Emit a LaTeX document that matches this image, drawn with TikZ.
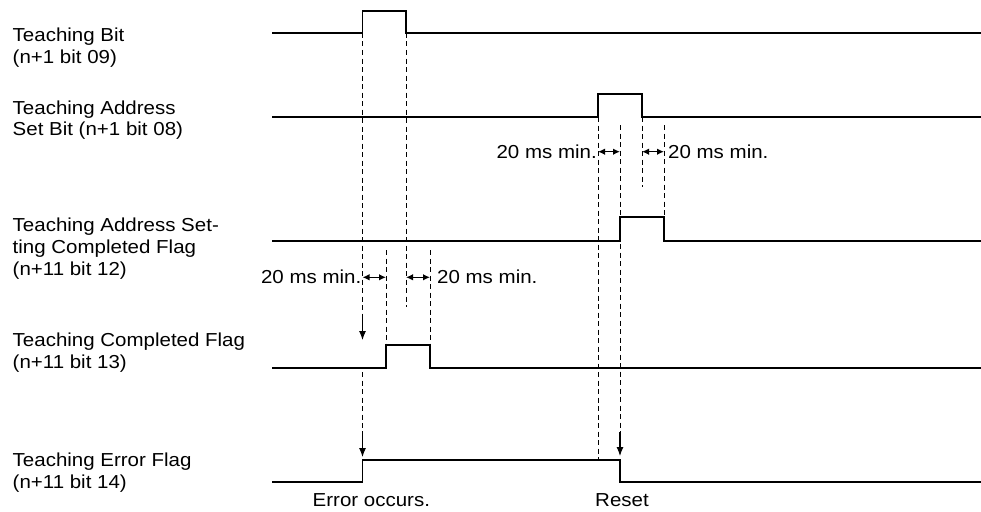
\documentclass[tikz,border=0pt]{standalone}
\usepackage{fontspec}
\setmainfont[FakeStretch=1.09]{Liberation Sans}
\usetikzlibrary{arrows.meta}
\begin{document}
\begin{tikzpicture}[x=1pt,y=-1pt,
  wave/.style={line width=1.6pt, line join=miter},
  guide/.style={line width=0.75pt, dash pattern=on 5pt off 3.5pt},
  gaparrow/.style={line width=1.2pt, {Latex[length=7pt,width=6.5pt]}-{Latex[length=7pt,width=6.5pt]}},
  downarrow/.style={line width=1.1pt, -{Latex[length=9pt,width=7pt]}},
  lbl/.style={font=\fontsize{18.8}{21.6}\selectfont, inner sep=0pt, align=left},
]
\useasboundingbox (0,0) rectangle (981,511);

% signal labels (base anchor = baseline of last line)
\node[lbl, anchor=base west] (l1) at (12.5,63.3) {Teaching Bit\\(n+1 bit 09)};
\node[lbl, anchor=base west] (l2) at (12.5,135.6) {Teaching Address\\Set Bit (n+1 bit 08)};
\node[lbl, anchor=base west] (l3) at (12.5,275) {Teaching Address Set-\\ting Completed Flag\\(n+11 bit 12)};
\node[lbl, anchor=base west] (l4) at (12.5,368.3) {Teaching Completed Flag\\(n+11 bit 13)};
\node[lbl, anchor=base west] (l5) at (12.5,488.3) {Teaching Error Flag\\(n+11 bit 14)};

% waveforms
\draw[wave] (272,33) -- (362.5,33) -- (362.5,11) -- (406,11) -- (406,33) -- (981,33);
\draw[wave] (272,117) -- (598,117) -- (598,94) -- (642,94) -- (642,117) -- (981,117);
\draw[wave] (272,241) -- (620,241) -- (620,217) -- (664,217) -- (664,241) -- (981,241);
\draw[wave] (272,368) -- (386,368) -- (386,345) -- (430,345) -- (430,368) -- (981,368);
\draw[wave] (272,482) -- (362.5,482) -- (362.5,460) -- (620,460) -- (620,482) -- (981,482);

% guide coordinates
\coordinate (g1a) at (362.5,33);  \coordinate (g1b) at (362.5,317);  \coordinate (e1t) at (362.5,340);
\coordinate (g1c) at (362.5,372); \coordinate (g1d) at (362.5,431);  \coordinate (e2t) at (362.5,457);
\coordinate (g2a) at (406,33);    \coordinate (g2b) at (406,307);
\coordinate (g3a) at (386,250);   \coordinate (g3b) at (386,345);
\coordinate (g4a) at (430,250);   \coordinate (g4b) at (430,345);
\coordinate (g5a) at (598,117);   \coordinate (g5b) at (598,460);
\coordinate (g6a) at (642,117);   \coordinate (g6b) at (642,187);
\coordinate (g7a) at (620,125);   \coordinate (g7b) at (620,432);    \coordinate (r1t) at (620,456);
\coordinate (g8a) at (664,125);   \coordinate (g8b) at (664,217);

\draw[guide] (g1a) -- (g1b);
\draw[guide] (g1c) -- (g1d);
\draw[guide] (g2a) -- (g2b);
\draw[guide] (g3a) -- (g3b);
\draw[guide] (g4a) -- (g4b);
\draw[guide] (g5a) -- (g5b);
\draw[guide] (g6a) -- (g6b);
\draw[guide] (g7a) -- (g7b);
\draw[guide] (g8a) -- (g8b);

\draw[downarrow] (g1b) -- (e1t);
\draw[downarrow] (g1d) -- (e2t);
\draw[downarrow] (g7b) -- (r1t);

% 20 ms min. spans
\coordinate (a1l) at (598,151.7); \coordinate (a1r) at (620,151.7);
\coordinate (a2l) at (642,151.7); \coordinate (a2r) at (664,151.7);
\coordinate (a3l) at (362.5,277.3); \coordinate (a3r) at (386,277.3);
\coordinate (a4l) at (406,277.3); \coordinate (a4r) at (430,277.3);
\draw[gaparrow] (a1l) -- (a1r);
\draw[gaparrow] (a2l) -- (a2r);
\draw[gaparrow] (a3l) -- (a3r);
\draw[gaparrow] (a4l) -- (a4r);

\node[lbl, anchor=base east] (t1) at (597,158.3) {20 ms min.};
\node[lbl, anchor=base west] (t2) at (668,158.3) {20 ms min.};
\node[lbl, anchor=base east] (t3) at (361.5,283) {20 ms min.};
\node[lbl, anchor=base west] (t4) at (437,283) {20 ms min.};

\node[lbl, anchor=base west] (err) at (312.5,506) {Error occurs.};
\node[lbl, anchor=base west] (rst) at (595,506) {Reset};
\end{tikzpicture}
\end{document}
